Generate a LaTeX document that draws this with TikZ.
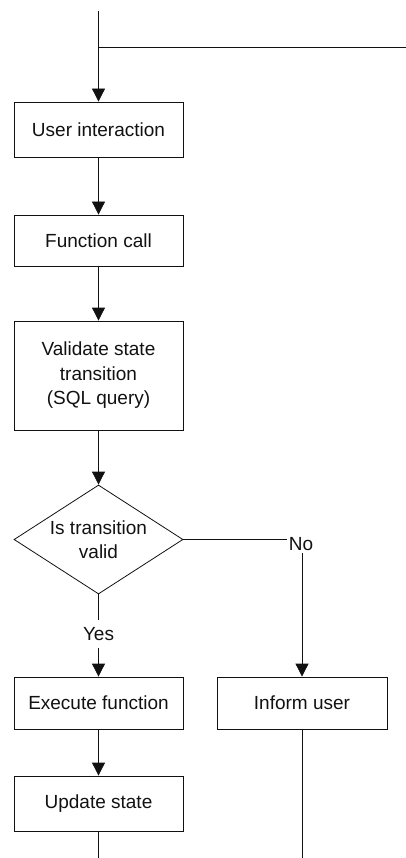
\documentclass[tikz,border=0pt]{standalone}
\usepackage{fontspec}
\setmainfont{Liberation Sans}
\usetikzlibrary{arrows.meta,shapes.geometric}
\definecolor{ink}{HTML}{111111}
\tikzset{
  >={Triangle[length=13pt,width=13pt]},
  stepbox/.style={draw=ink,line width=.8pt,minimum width=169pt,inner sep=0pt,align=center,text=ink},
  decide/.style={diamond,draw=ink,line width=.8pt,minimum width=169pt,minimum height=109pt,aspect=1.55,inner sep=0pt,align=center,text=ink},
  answer/.style={inner sep=2pt,text=ink},
  flow/.style={->,line width=.8pt,color=ink},
  wire/.style={line width=.8pt,color=ink},
}

\begin{document}
\begin{tikzpicture}[x=1pt,y=-1pt,font=\fontsize{19}{24.5}\selectfont]
  \useasboundingbox (0,0) rectangle (406,858);
  \coordinate (top) at (98.5,11);
  \coordinate (junc) at (98.5,47.5);
  \coordinate (feed) at (406,47.5);
  \node[stepbox,minimum height=55pt] (ui) at (98.5,129.5) {User interaction};
  \node[stepbox,minimum height=51pt] (fcall) at (98.5,240.5) {Function call};
  \node[stepbox,minimum height=109pt] (valid) at (98.5,375.5) {Validate state\\transition\\(SQL query)};
  \node[decide] (dec) at (98.5,539.5) {Is transition\\valid};
  \node[answer,inner sep=7pt] (yes) at (98.5,634) {Yes};
  \node[answer] (no) at (301,544) {No};
  \node[stepbox,minimum height=52pt] (exec) at (98.5,703) {Execute function};
  \node[stepbox,minimum width=170pt,minimum height=52pt] (inform) at (302,703) {Inform user};
  \node[stepbox,minimum height=55pt] (update) at (98.5,803.5) {Update state};
  \coordinate (outL) at (98.5,858);
  \coordinate (outR) at (302,858);
  \draw[flow] (top) -- (ui);
  \draw[wire] (feed) -- (junc);
  \draw[flow] (ui) -- (fcall);
  \draw[flow] (fcall) -- (valid);
  \draw[flow] (valid) -- (dec);
  \draw[wire] (dec.south) -- (yes.north);
  \draw[flow] (yes) -- (exec);
  \draw[wire] (dec.east) -- (dec.east -| no.west);
  \draw[flow] (no.south -| inform.north) -- (inform);
  \draw[flow] (exec) -- (update);
  \draw[wire] (update) -- (outL);
  \draw[wire] (inform) -- (outR);
\end{tikzpicture}
\end{document}
